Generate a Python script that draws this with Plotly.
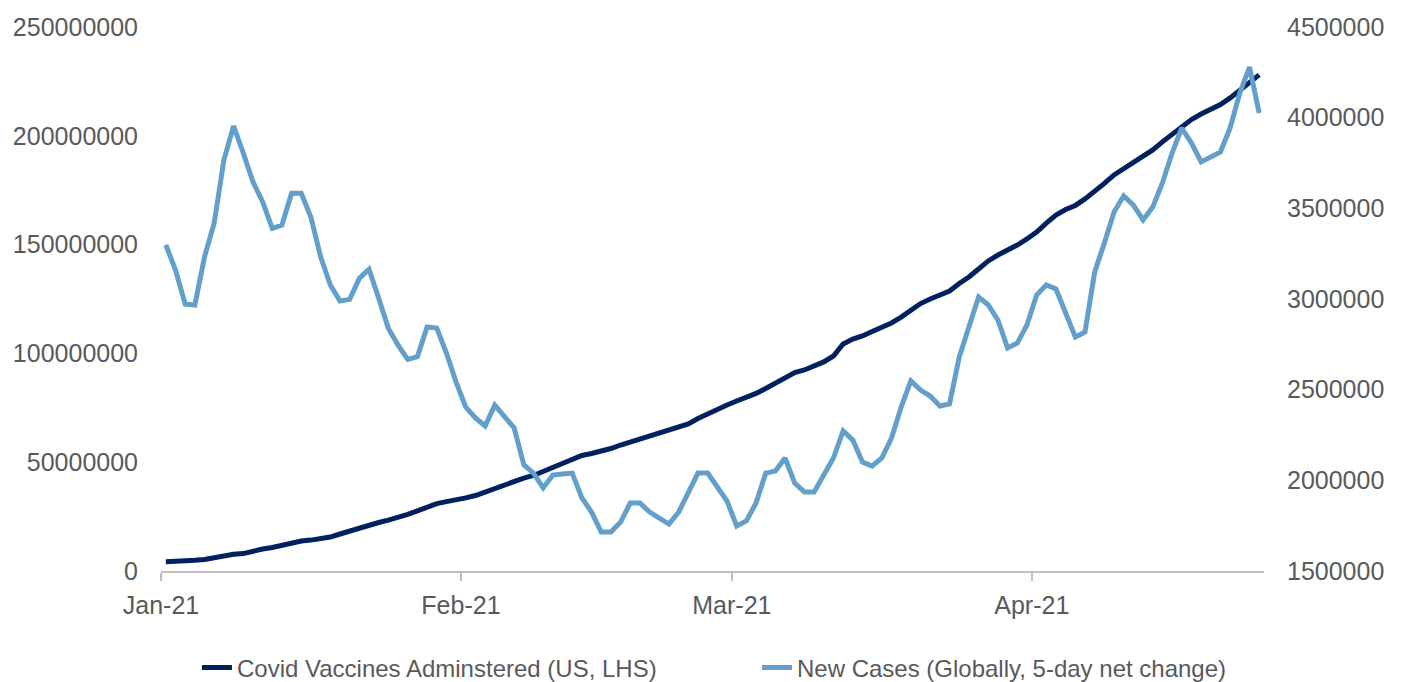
import pandas as pd
import plotly.graph_objects as go

# Daily observations, 1 Jan 2021 - 24 Apr 2021
start_date = "2021-01-01"
n_days = 114

# Cumulative COVID vaccine doses administered in the US (left axis)
vaccines_us = [
    4.2e6, 4.3e6, 4.6e6, 4.9e6, 5.3e6, 6.2e6, 7.1e6, 7.7e6, 8.0e6, 9.2e6,
    10.1e6, 10.8e6, 11.9e6, 13.0e6, 13.8e6, 14.2e6, 14.7e6, 15.6e6, 17.0e6, 18.4e6,
    19.5e6, 20.9e6, 22.3e6, 23.4e6, 24.6e6, 26.0e6, 27.6e6, 29.4e6, 31.0e6, 31.9e6,
    32.6e6, 33.6e6, 34.7e6, 36.3e6, 37.9e6, 39.8e6, 41.4e6, 42.7e6, 43.9e6, 45.7e6,
    47.8e6, 49.6e6, 51.5e6, 53.1e6, 54.0e6, 54.9e6, 56.3e6, 57.9e6, 59.3e6, 60.7e6,
    62.0e6, 63.4e6, 64.8e6, 66.0e6, 67.6e6, 70.1e6, 72.2e6, 74.7e6, 76.3e6, 78.1e6,
    79.7e6, 81.6e6, 83.9e6, 86.2e6, 88.9e6, 91.2e6, 92.4e6, 94.0e6, 96.1e6, 98.8e6,
    104.3e6, 106.6e6, 108.0e6, 110.1e6, 111.9e6, 114.0e6, 116.7e6, 120.0e6, 122.9e6, 125.0e6,
    126.6e6, 128.7e6, 132.1e6, 135.1e6, 138.8e6, 142.5e6, 145.2e6, 147.3e6, 149.8e6, 152.6e6,
    155.8e6, 159.9e6, 163.6e6, 166.1e6, 168.0e6, 171.0e6, 174.2e6, 178.1e6, 182.0e6, 185.0e6,
    187.7e6, 190.5e6, 193.5e6, 197.2e6, 200.8e6, 204.5e6, 207.5e6, 210.0e6, 211.9e6, 214.4e6,
    217.4e6, 220.8e6, 224.7e6, 228.0e6,
]

# New COVID cases worldwide, 5-day net change (right axis)
new_cases_global = [
    3298000, 3160000, 2972000, 2967000, 3233000, 3419000, 3767000, 3954000, 3805000, 3647000,
    3537000, 3390000, 3408000, 3583000, 3583000, 3450000, 3233000, 3077000, 2989000, 2998000,
    3114000, 3164000, 3004000, 2838000, 2746000, 2667000, 2682000, 2846000, 2840000, 2702000,
    2542000, 2404000, 2344000, 2300000, 2415000, 2349000, 2289000, 2085000, 2040000, 1958000,
    2029000, 2035000, 2040000, 1903000, 1825000, 1715000, 1715000, 1770000, 1875000, 1875000,
    1825000, 1792000, 1759000, 1825000, 1930000, 2040000, 2040000, 1958000, 1886000, 1748000,
    1776000, 1875000, 2040000, 2051000, 2123000, 1985000, 1936000, 1936000, 2029000, 2123000,
    2272000, 2222000, 2101000, 2079000, 2123000, 2233000, 2404000, 2548000, 2498000, 2465000,
    2410000, 2421000, 2680000, 2857000, 3011000, 2967000, 2884000, 2730000, 2757000, 2857000,
    3022000, 3077000, 3055000, 2923000, 2790000, 2818000, 3149000, 3309000, 3480000, 3568000,
    3518000, 3436000, 3507000, 3640000, 3805000, 3943000, 3860000, 3756000, 3783000, 3811000,
    3943000, 4136000, 4279000, 4026000,
]

month_ticks = ["2021-01-01", "2021-02-01", "2021-03-01", "2021-04-01"]
month_labels = ["Jan-21", "Feb-21", "Mar-21", "Apr-21"]

# each daily point sits in the middle of its day slot
dates = pd.date_range(start_date + " 12:00", periods=n_days, freq="D")

NAVY = "#002060"
LIGHT = "#629fca"
TICK_GRAY = "#595959"
AXIS_GRAY = "#bfbfbf"
TICK_FONT = dict(family="Liberation Sans, Arial, sans-serif", size=25, color=TICK_GRAY)
LEGEND_FONT = dict(family="Liberation Sans, Arial, sans-serif", size=24, color=TICK_GRAY)

fig = go.Figure()
fig.add_trace(go.Scatter(
    x=dates, y=vaccines_us, mode="lines",
    name="Covid Vaccines Adminstered (US, LHS)",
    line=dict(color=NAVY, width=5),
    yaxis="y", legend="legend",
))
fig.add_trace(go.Scatter(
    x=dates, y=new_cases_global, mode="lines",
    name="New Cases (Globally, 5-day net change)",
    line=dict(color=LIGHT, width=5),
    yaxis="y2", legend="legend2",
))

legend_common = dict(
    orientation="h", xanchor="left", yanchor="middle",
    font=LEGEND_FONT, bgcolor="rgba(0,0,0,0)",
)

fig.update_layout(
    width=1404, height=682,
    margin=dict(l=161, r=140, t=27, b=111, autoexpand=False),
    paper_bgcolor="white", plot_bgcolor="white",
    showlegend=True,
    legend=dict(x=0.0326, y=-0.178, **legend_common),
    legend2=dict(x=0.5403, y=-0.178, **legend_common),
    xaxis=dict(
        type="date",
        range=["2021-01-01", "2021-04-25"],
        tickvals=month_ticks,
        ticktext=month_labels,
        ticks="outside", ticklen=8, tickwidth=1.5, tickcolor=AXIS_GRAY,
        showline=True, linecolor=AXIS_GRAY, linewidth=1.5,
        showgrid=False, zeroline=False,
        ticklabelstandoff=3,
        tickfont=TICK_FONT,
    ),
    yaxis=dict(
        range=[0, 250000000], dtick=50000000, tickformat="d",
        showgrid=False, zeroline=False, showline=False,
        ticks="", ticklabelstandoff=22,
        tickfont=TICK_FONT,
    ),
    yaxis2=dict(
        range=[1500000, 4500000], dtick=500000, tickformat="d",
        overlaying="y", side="right",
        showgrid=False, zeroline=False, showline=False,
        ticks="", ticklabelstandoff=22,
        tickfont=TICK_FONT,
    ),
)

fig.write_html("out.html")
